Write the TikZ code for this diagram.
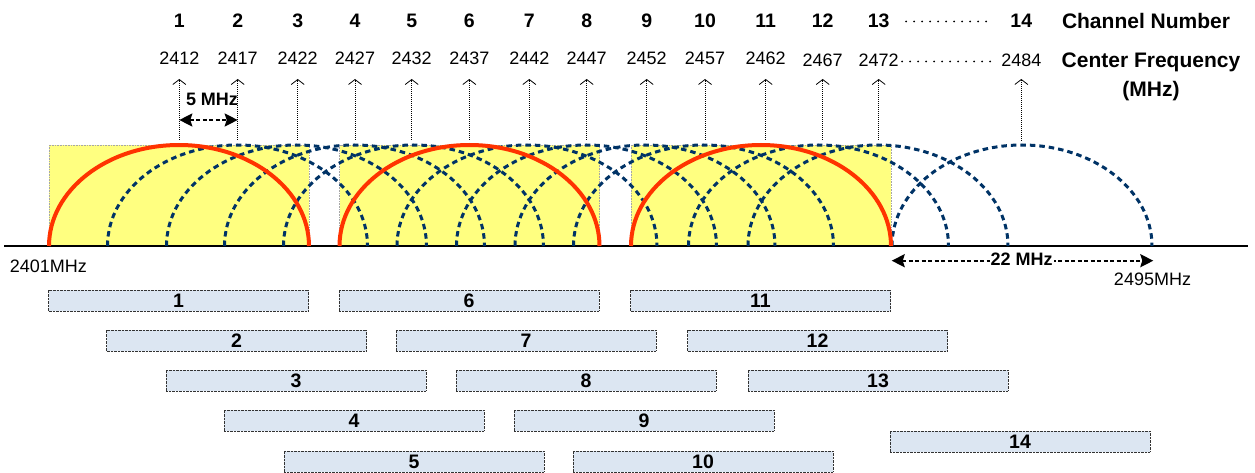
\documentclass[tikz,border=0pt]{standalone}
\usepackage{fontspec}
\setmainfont{Liberation Sans}
\usetikzlibrary{arrows.meta}
\definecolor{chyellow}{HTML}{FFFF80}
\definecolor{chred}{HTML}{FF3300}
\definecolor{chblue}{HTML}{003366}
\definecolor{boxblue}{HTML}{DCE6F2}
\begin{document}
\begin{tikzpicture}[x=1pt,y=-1pt,
  freq/.style={font=\fontsize{18}{20}\selectfont, inner sep=0pt},
  chnum/.style={font=\bfseries\fontsize{19.5}{20}\selectfont, inner sep=0pt},
  head/.style={font=\bfseries\fontsize{21}{29}\selectfont, inner sep=0pt, align=center},
  meas/.style={font=\bfseries\fontsize{18}{20}\selectfont, inner sep=1pt},
  redarc/.style={draw=chred, line width=4pt},
  bluearc/.style={draw=chblue, line width=3pt, dash pattern=on 5.5pt off 4pt},
  ybox/.style={fill=chyellow, draw=gray!70, line width=0.6pt, dash pattern=on 0.8pt off 0.8pt},
  chbox/.style={rectangle, fill=boxblue, draw=gray!40!black, line width=0.8pt, dash pattern=on 0.8pt off 0.6pt, minimum width=260pt, minimum height=21pt, inner sep=0pt, font=\bfseries\fontsize{19.5}{20}\selectfont},
  uparrow/.style={draw=black, line width=0.7pt, dash pattern=on 1pt off 1pt, -{Straight Barb[length=5pt,width=13pt,line width=0.8pt]}},
  leader/.style={draw=black, line width=2pt, line cap=round, dash pattern=on 0pt off 8pt},
  measarrow/.style={draw=black, line width=2pt, dash pattern=on 4pt off 2.5pt, {Stealth[length=13pt,width=13pt,inset=2pt]}-{Stealth[length=13pt,width=13pt,inset=2pt]}}
]
\useasboundingbox (0,0) rectangle (1255,473);

% yellow non-overlapping channel areas
\foreach \n/\c in {1/179,6/469.5,11/761}
  \draw[ybox] ({\c-130},145) rectangle ({\c+130},246);

% axis
\coordinate (axL) at (4,246);
\coordinate (axR) at (1248,246);
\draw[line width=2.4pt] (axL) -- (axR);

% blue dashed channel masks
\foreach \c in {237.5,296.5,354.5,413.5,527,586.5,645,703.5,818.5,878,1022}
  \draw[bluearc] ({\c-130},246) arc[start angle=180,end angle=0,x radius=130pt,y radius=101pt];

% red channel masks 1, 6, 11
\foreach \c in {179,469.5,761}
  \draw[redarc] ({\c-130},246) arc[start angle=180,end angle=0,x radius=130pt,y radius=101pt];

% header: channel numbers, frequencies, arrows
\foreach \n/\x/\f/\fy/\by in {1/179.3/2412/58/140, 2/237.7/2417/58/140, 3/297.7/2422/58/140, 4/355/2427/58/140,
  5/411.7/2432/58/140, 6/469.3/2437/58/140, 7/529.3/2442/58/140, 8/586.7/2447/58/140, 9/646.7/2452/58/140,
  10/705/2457/58/140, 11/765.7/2462/58/140, 12/822.7/2467/60/140, 13/878.7/2472/60/140, 14/1021.3/2484/60/141}{
  \node[chnum] (ch\n) at (\x,21) {\n};
  \node[freq] (f\n) at (\x,\fy) {\f};
  \coordinate (ab\n) at (\x,\by);
  \coordinate (at\n) at (\x,79);
  \draw[uparrow] (ab\n) -- (at\n);
}

% dotted leaders
\coordinate (l1a) at (906,21.5);
\coordinate (l1b) at (987,21.5);
\coordinate (l2a) at (902,61.5);
\coordinate (l2b) at (993,61.5);
\draw[leader] (l1a) -- (l1b);
\draw[leader] (l2a) -- (l2b);

\node[head] (chlabel) at (1146,21) {Channel Number};
\node[head] (cflabel) at (1151,76.5) {Center Frequency\\(MHz)};

% 5 MHz spacing
\coordinate (m5l) at (179.3,120);
\coordinate (m5r) at (237.7,120);
\draw[measarrow] (m5l) -- (m5r);
\node[meas] (m5) at (212,99) {5 MHz};

% 22 MHz width
\coordinate (m22l) at (891.7,260.7);
\coordinate (m22r) at (1153.3,260.7);
\draw[measarrow] (m22l) -- (m22r);
\node[meas, fill=white] (m22) at (1021.7,259.5) {22 MHz};

\node[freq] (lo) at (48.3,266) {2401MHz};
\node[freq] (hi) at (1152.5,279.3) {2495MHz};

% channel boxes
\foreach \n/\x/\y in {1/178.5/300.5, 2/236.5/340.5, 3/296/380.5, 4/354/420.5, 5/414/461.5,
  6/469/300.5, 7/526/340.5, 8/586/380.5, 9/644/420.5, 10/703/461.5,
  11/760.5/300.5, 12/817.5/340.5, 13/878/380.5, 14/1020/441.5}
  \node[chbox] (box\n) at (\x,\y) {\n};
\end{tikzpicture}
\end{document}
